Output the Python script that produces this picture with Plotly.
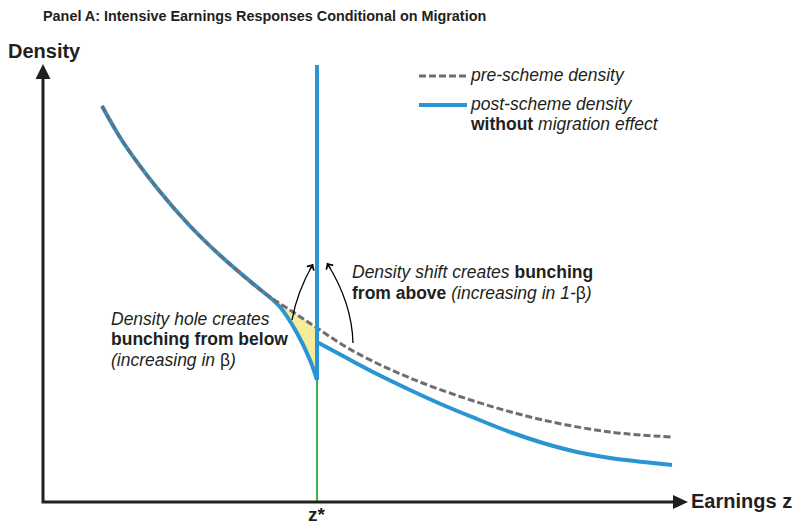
import plotly.graph_objects as go

# ---------------- data (x = earnings, y = density, arbitrary units) ----------------
pre_x = [59, 80, 114, 147, 180, 220, 247, 274, 310, 367, 434, 500, 567, 629]
pre_y = [396, 360, 314, 276, 244, 210, 192, 174, 151, 124, 100, 82, 70, 65]

post_upper_x = [59, 80, 114, 147, 180, 219]
post_upper_y = [396, 360, 314, 276, 244, 211]

post_hole_x = [219, 237, 254, 267, 274]
post_hole_y = [211, 195, 169, 142, 122]

hole_top_x = [219, 247, 274]
hole_top_y = [211, 192, 174]

post_right_x = [274, 300, 334, 367, 400, 434, 467, 500, 534, 567, 600, 629]
post_right_y = [160, 146, 128, 112, 97, 83, 70, 59, 50, 44, 40, 37]

zstar = 274
spike_bottom = 122
spike_top = 437

# ---------------- styles ----------------
FONT = "Liberation Sans, Arial, Helvetica, sans-serif"
TXT = "#231f20"
BLUE = "#2a95d3"
GRAY = "#6d6e71"
YELLOW = "#f6ec9c"
GREEN = "#3cb54a"

fig = go.Figure()

# hole fill
fig.add_trace(go.Scatter(
    x=hole_top_x + post_hole_x[::-1], y=hole_top_y + post_hole_y[::-1],
    fill="toself", fillcolor=YELLOW, line=dict(width=0), mode="lines",
    hoverinfo="skip"))

# green z* line
fig.add_trace(go.Scatter(x=[zstar, zstar], y=[0, spike_bottom], mode="lines",
                         line=dict(color=GREEN, width=2)))

# post-scheme (blue)
fig.add_trace(go.Scatter(x=post_upper_x, y=post_upper_y, mode="lines",
                         line=dict(color=BLUE, width=4, shape="spline")))
fig.add_trace(go.Scatter(x=post_hole_x, y=post_hole_y, mode="lines",
                         line=dict(color=BLUE, width=4, shape="spline")))
fig.add_trace(go.Scatter(x=post_right_x, y=post_right_y, mode="lines",
                         line=dict(color=BLUE, width=4, shape="spline")))

# pre-scheme (dashed)
fig.add_trace(go.Scatter(x=pre_x, y=pre_y, mode="lines",
                         line=dict(color=GRAY, width=3, dash="7px,3px", shape="spline")))

# spike
fig.add_trace(go.Scatter(x=[zstar, zstar], y=[spike_bottom, spike_top], mode="lines",
                         line=dict(color=BLUE, width=4)))

shapes = []
# axes
shapes.append(dict(type="path", path="M 0,430 L 0,0 L 632,0", xref="x", yref="y",
                   line=dict(color=TXT, width=3)))
shapes.append(dict(type="path", path="M -7.5,423 L 0,438 L 7.5,423 Z", xref="x", yref="y",
                   fillcolor=TXT, line=dict(color=TXT, width=0)))
shapes.append(dict(type="path", path="M 630,-7 L 645,0 L 630,7 Z", xref="x", yref="y",
                   fillcolor=TXT, line=dict(color=TXT, width=0)))
# legend samples
shapes.append(dict(type="line", x0=376, x1=424, y0=426, y1=426, xref="x", yref="y",
                   line=dict(color=GRAY, width=3, dash="7px,3px")))
shapes.append(dict(type="line", x0=376, x1=424, y0=397, y1=397, xref="x", yref="y",
                   line=dict(color=BLUE, width=4)))
# curved arrows
shapes.append(dict(type="path", path="M 249,182 Q 254,210 270,238", xref="x", yref="y",
                   line=dict(color="black", width=1.3)))
shapes.append(dict(type="path", path="M 310,159 Q 309,199 284,239", xref="x", yref="y",
                   line=dict(color="black", width=1.3)))

ann = []
def txt(x, y, s, size, xanchor="left"):
    ann.append(dict(x=x, y=y, xref="x", yref="y", text=s, showarrow=False,
                    xanchor=xanchor, yanchor="middle", borderpad=0,
                    font=dict(family=FONT, size=size, color=TXT)))

txt(-1, 486, "<b>Panel A: Intensive Earnings Responses Conditional on Migration</b>", 14.4)
txt(-36, 451, "<b>Density</b>", 20)
txt(647, 1, "<b>Earnings z</b>", 20)
txt(zstar, -12, "<b>z*</b>", 19, xanchor="center")

txt(426, 427, "<i>pre-scheme density</i>", 17.5)
txt(426, 398, "<i>post-scheme density</i>", 17.5)
txt(426, 378, "<b>without</b> <i>migration effect</i>", 17.5)

txt(67, 183, "<i>Density hole creates</i>", 17.5)
txt(67, 163, "<b>bunching from below</b>", 17.5)
txt(67, 142, "<i>(increasing in </i>β<i>)</i>", 17.5)

txt(308, 230, "<i>Density shift creates</i> <b>bunching</b>", 17.5)
txt(308, 209, "<b>from above</b> <i>(increasing in 1-</i>β<i>)</i>", 17.5)

# arrowheads
for tipx, tipy, axp, ayp in [(270, 238, -4, 7), (284, 239, 4.2, 6.8)]:
    ann.append(dict(x=tipx, y=tipy, xref="x", yref="y", text="", showarrow=True,
                    ax=axp, ay=ayp, axref="pixel", ayref="pixel",
                    arrowhead=4, arrowsize=1.2, arrowwidth=1.3, arrowcolor="black",
                    standoff=0))

fig.update_layout(
    width=797, height=527, margin=dict(l=0, r=0, t=0, b=0),
    paper_bgcolor="white", plot_bgcolor="white", showlegend=False,
    xaxis=dict(range=[-43, 754], visible=False, fixedrange=True),
    yaxis=dict(range=[-25, 502], visible=False, fixedrange=True),
    shapes=shapes, annotations=ann,
)

fig.write_html(
    "out.html",
    config={"displayModeBar": False, "staticPlot": True},
    post_script="document.body.style.margin='0';document.body.style.overflow='hidden';",
)
